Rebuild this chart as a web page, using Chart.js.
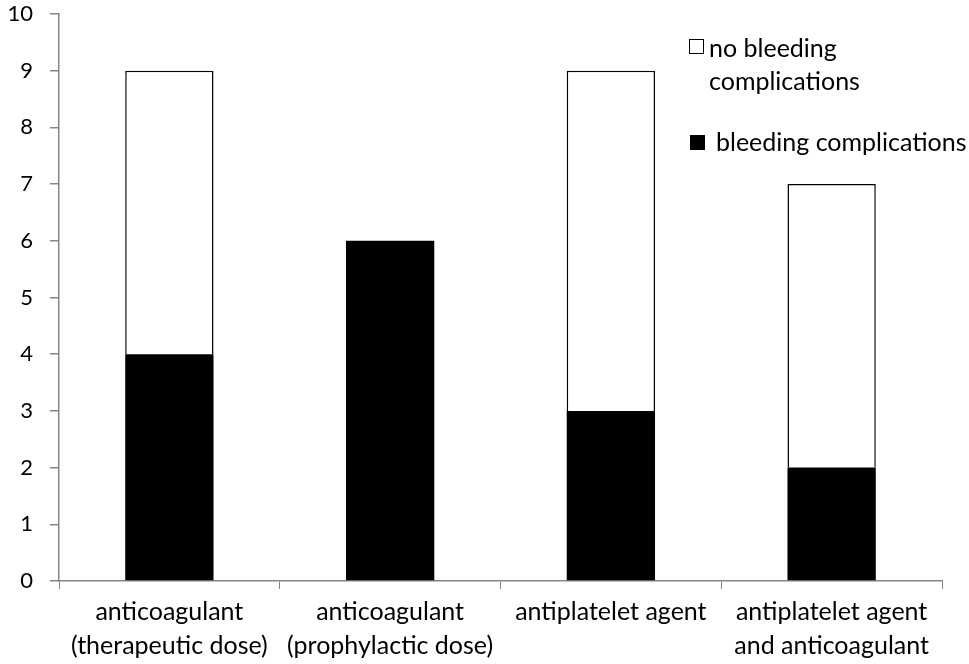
<!DOCTYPE html>
<html>
<head>
<meta charset="utf-8">
<script src="https://cdn.jsdelivr.net/npm/chart.js@4"></script>
<style>
  html, body { margin: 0; padding: 0; background: #fff; }
  #wrap { position: relative; width: 969px; height: 664px; }
  canvas { position: absolute; left: 0; top: 0; }
  .lg { position: absolute; font-family: Lato, "Open Sans", sans-serif; font-size: 25px; color: #000; line-height: 33px; white-space: nowrap; }
  .box { position: absolute; width: 15px; height: 15px; box-sizing: border-box; }
</style>
</head>
<body>
<div id="wrap">
  <canvas id="c" width="969" height="664"></canvas>
  <div class="box" style="left:689px;top:39px;border:1.5px solid #000;background:#fff;"></div>
  <div class="lg" style="left:709px;top:31px;">no bleeding<br>complications</div>
  <div class="box" style="left:690px;top:135px;background:#000;"></div>
  <div class="lg" style="left:716px;top:125px;">bleeding complications</div>
</div>
<script>
const categories = [
  ["anticoagulant", "(therapeutic dose)"],
  ["anticoagulant", "(prophylactic dose)"],
  ["antiplatelet agent"],
  ["antiplatelet agent", "and anticoagulant"]
];
const bleeding = [4, 6, 3, 2];
const noBleeding = [5, 0, 6, 5];
const yTicks = [0, 1, 2, 3, 4, 5, 6, 7, 8, 9, 10];

const FONT = "Lato, 'Open Sans', sans-serif";
const axisColor = "#868686";

new Chart(document.getElementById("c"), {
  type: "bar",
  data: {
    labels: categories,
    datasets: [
      { label: "bleeding complications", data: bleeding, backgroundColor: "#000", borderColor: "#000", borderWidth: 0, categoryPercentage: 1, barPercentage: 0.4 },
      { label: "no bleeding complications", data: noBleeding, backgroundColor: "#fff", borderColor: "#000", borderWidth: 1.5, categoryPercentage: 1, barPercentage: 0.4 }
    ]
  },
  options: {
    responsive: false,
    animation: false,
    devicePixelRatio: 1,
    layout: { padding: { top: 14, right: 27, left: 0, bottom: 0 } },
    plugins: { legend: { display: false }, tooltip: { enabled: false } },
    scales: {
      x: {
        stacked: true,
        grid: { offset: true, drawOnChartArea: false, drawTicks: true, tickLength: 8, color: axisColor, lineWidth: 1 },
        border: { color: axisColor, width: 1.5 },
        ticks: { color: "#000", font: { family: FONT, size: 25, lineHeight: 1.36 }, padding: 6, maxRotation: 0, autoSkip: false },
        afterFit: (s) => { s.height = 83; s.paddingLeft = 0; s.paddingRight = 0; }
      },
      y: {
        stacked: true,
        min: 0, max: 10,
        afterBuildTicks: (s) => { s.ticks = yTicks.map(v => ({ value: v })); },
        grid: { drawOnChartArea: false, drawTicks: true, tickLength: 9, color: axisColor, lineWidth: 1.5 },
        border: { color: axisColor, width: 1.5 },
        ticks: { color: "#000", font: { family: FONT, size: 22 }, padding: 17 },
        afterFit: (s) => { s.width = 59; s.paddingTop = 0; s.paddingBottom = 0; }
      }
    }
  }
});
</script>
</body>
</html>
